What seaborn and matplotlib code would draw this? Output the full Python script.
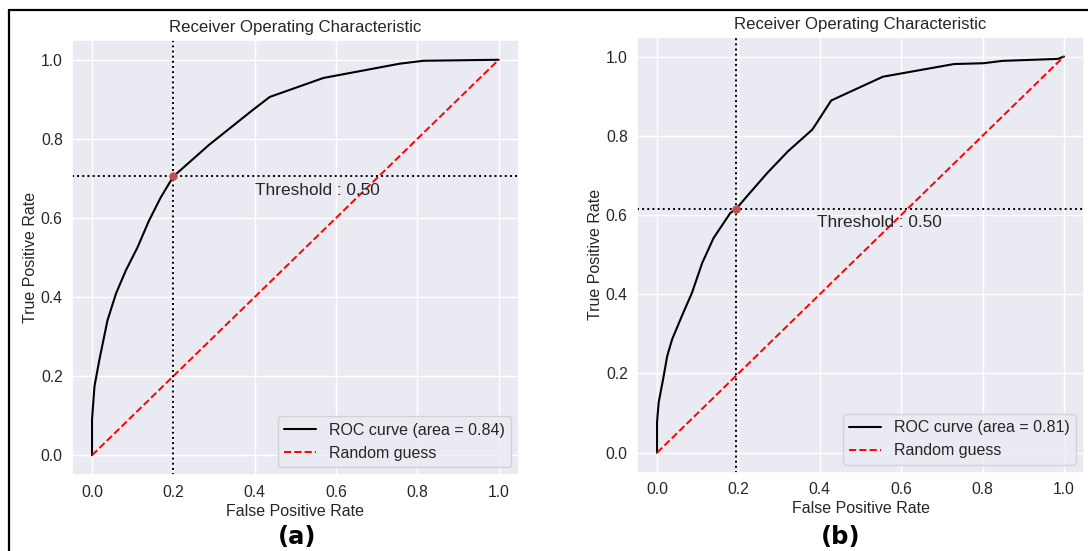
import numpy as np
import matplotlib
matplotlib.use("Agg")
import matplotlib.pyplot as plt
import seaborn as sns
import pandas as pd
from matplotlib.lines import Line2D

# ---- data ----
fpr_a = [0.0, 0.0, 0.006, 0.018, 0.038, 0.059, 0.083, 0.112, 0.140, 0.169, 0.2, 0.288, 0.394, 0.437, 0.569, 0.756, 0.815, 1.0]
tpr_a = [0.0, 0.09, 0.174, 0.241, 0.341, 0.409, 0.467, 0.526, 0.593, 0.652, 0.705, 0.785, 0.872, 0.906, 0.954, 0.99, 0.9975, 1.0]
fpr_b = [0.0, 0.0, 0.004, 0.015, 0.025, 0.037, 0.061, 0.086, 0.111, 0.139, 0.180, 0.194, 0.225, 0.27, 0.321, 0.381, 0.389, 0.428, 0.555, 0.73, 0.802, 0.849, 0.985, 1.0]
tpr_b = [0.0, 0.077, 0.127, 0.186, 0.244, 0.286, 0.345, 0.404, 0.479, 0.542, 0.605, 0.615, 0.652, 0.705, 0.76, 0.815, 0.827, 0.889, 0.949, 0.981, 0.983, 0.989, 0.994, 1.0]
auc_values = [0.84, 0.81]
thr_fpr = [0.2, 0.194]
thr_tpr = [0.705, 0.615]
threshold_value = 0.50
panel_labels = ["(a)", "(b)"]

sns.set_theme(style="darkgrid")
plt.rcParams['font.family'] = ['Liberation Sans', 'DejaVu Sans']

W, H = 1088, 551
fig = plt.figure(figsize=(W / 100, H / 100), dpi=100)

boxes = [
    [71.7 / W, 1 - 475 / H, 447.3 / W, 435 / H],
    [636.7 / W, 1 - 472.5 / H, 447.6 / W, 435.8 / H],
]
curves = [(fpr_a, tpr_a), (fpr_b, tpr_b)]
label_x = [297 / W, 841 / W]

for i, (fx, ty) in enumerate(curves):
    ax = fig.add_axes(boxes[i])
    df = pd.DataFrame({"fpr": fx, "tpr": ty})
    sns.lineplot(data=df, x="fpr", y="tpr", ax=ax, color="black", lw=1.5,
                 estimator=None, sort=False,
                 label=f"ROC curve (area = {auc_values[i]:.2f})")
    diag = pd.DataFrame({"fpr": [0, 1], "tpr": [0, 1]})
    sns.lineplot(data=diag, x="fpr", y="tpr", ax=ax, color="red", lw=1.4,
                 linestyle="--", label="Random guess", estimator=None)
    ax.axvline(thr_fpr[i], color="black", linestyle=":", lw=1.4)
    ax.axhline(thr_tpr[i], color="black", linestyle=":", lw=1.4)
    ax.plot([thr_fpr[i]], [thr_tpr[i]], "o", color="#c44e52", ms=5)
    ax.text(thr_fpr[i] + 0.2, thr_tpr[i] - 0.035, f"Threshold : {threshold_value:.2f}",
            fontsize=12.4, color=".15", va="center")
    ax.set_xlim(-0.05, 1.05)
    ax.set_ylim(-0.05, 1.05)
    ax.set_xticks([0, 0.2, 0.4, 0.6, 0.8, 1.0])
    ax.set_yticks([0, 0.2, 0.4, 0.6, 0.8, 1.0])
    ax.tick_params(axis="x", labelsize=11.3, length=0, pad=7)
    ax.tick_params(axis="y", labelsize=11.3, length=0, pad=6.5)
    ax.set_xlabel("False Positive Rate", fontsize=11.5, labelpad=3)
    ax.set_ylabel("True Positive Rate", fontsize=11.5, labelpad=2)
    ax.set_title("Receiver Operating Characteristic", fontsize=12.1, pad=5.5)
    ax.legend(loc="lower right", fontsize=11.5)
    fig.text(label_x[i], 1 - 537 / H, panel_labels[i], ha="center", va="center",
             fontsize=17.5, fontweight="bold", family="DejaVu Sans", color="black")

# border lines (top and left)
fig.add_artist(Line2D([9 / W, 1.0], [1 - 10 / H, 1 - 10 / H], color="black", lw=1.6,
                      transform=fig.transFigure))
fig.add_artist(Line2D([9 / W, 9 / W], [0, 1 - 10 / H], color="black", lw=1.6,
                      transform=fig.transFigure))

fig.savefig("out.png", dpi=100)
